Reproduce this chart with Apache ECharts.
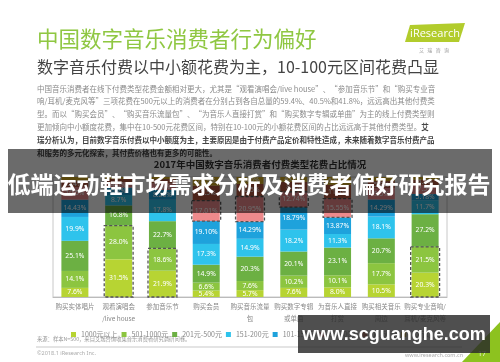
<!DOCTYPE html>
<html><head><meta charset="utf-8">
<script src="https://cdn.jsdelivr.net/npm/echarts@6/dist/echarts.min.js"></script>
<style>html,body{margin:0;padding:0;background:#fff}#c{width:500px;height:362px}</style>
</head><body><div id="c"></div>
<script>
const categories = ['购买实体唱片','观看演唱会\n/live house','参加音乐节','购买会员','购买音乐流量\n包','购买数字专辑\n或单曲','为音乐人直接\n打赏','购买相关音乐\n周边','购买专业音响/\n耳机/麦克风等'];
const bandNames = ['1000元以上','501-1000元','201元-500元','151-200元','101-150元','51-100元','11-50元','10元以下'];
const v1000 = ['7.6','31.5','21.9','5.4','5.7','7.6','8.0','10.5','20.3'];
const v501  = ['14.1','28.0','18.6','6.6','7.6','10.2','10.1','17.7','21.5'];
const v201  = ['25.1','16.8','22.7','14.9','20.3','20.1','23.1','20.7','27.2'];
const v151  = ['19.9','8.7','17.8','17.3','14.9','18.2','11.3','18.1','11.7'];
const v101  = ['14.43','6.2','8.26','19.10','14.29','18.79','13.87','14.29','5.18'];
const v51   = ['10.5','4.5','5.5','17.01','20.95','12.74','15.55','9.5','7.5'];
const v11   = ['5.4','2.8','3.5','12.5','10.5','8.3','11.5','5.8','4.2'];
const v10   = ['2.97','1.5','1.74','7.19','5.76','4.07','6.58','3.41','2.42'];
const bandColors = ['#b7d433','#8cc540','#6cb043','#2ec3ec','#1ea2dc','#ee8a8c','#b5573f','#d6ab22'];
const bands = [v1000, v501, v201, v151, v101, v51, v11, v10];

const num = a => a.map(Number);
const series = bands.map((arr, k) => ({
  name: bandNames[k], type: 'bar', stack: 'all', barWidth: 27,
  data: num(arr),
  itemStyle: { color: bandColors[k] },
  label: { show: true, position: 'inside', color: '#fff', fontSize: 6.8,
    fontFamily: 'Noto Sans', formatter: p => (Number(arr[p.dataIndex]) >= 4 ? arr[p.dataIndex] + '%' : '') }
}));

// highlighted ranges (dashed boxes)
const n = bands.map(num);
const boxes = [];
[1, 2, 8].forEach(i => boxes.push([i, 0, n[0][i] + n[1][i]]));
[3, 4, 5, 6].forEach(i => { const s = n[0][i] + n[1][i] + n[2][i] + n[3][i] + n[4][i]; boxes.push([i, s, s + n[5][i]]); });
series.push({
  type: 'custom', z: 5, data: boxes, silent: true,
  renderItem(params, api) {
    const x = api.value(0);
    const p0 = api.coord([x, api.value(1)]);
    const p1 = api.coord([x, api.value(2)]);
    const w = api.size([1, 0])[0] * 0.66;
    return { type: 'rect', shape: { x: p0[0] - w / 2, y: p1[1], width: w, height: p0[1] - p1[1] },
      style: { fill: 'none', stroke: '#555', lineWidth: 1.3, lineDash: [3, 2] } };
  }
});

const para = [
  '中国音乐消费者在线下付费类型花费金额相对更大，尤其是“观看演唱会/live house”、“参加音乐节”和“购买专业音',
  '响/耳机/麦克风等”三项花费在500元以上的消费者在分别占到各自总量的59.4%、40.5%和41.8%，远远高出其他付费类',
  '型。而以“购买会员”、“购买音乐流量包”、“为音乐人直接打赏”和“购买数字专辑或单曲”为主的线上付费类型则',
  '更加倾向中小额度花费，集中在10-500元花费区间，特别在10-100元的小额花费区间的占比远远高于其他付费类型。{b|艾}',
  '{b|瑞分析认为，目前数字音乐付费以中小额度为主，主要原因是由于付费产品定价和特性造成，未来随着数字音乐付费产品}',
  '{b|和服务的多元化探索，其付费价格也有更多的可能性。}'
];
const F = 'Noto Sans CJK SC';
const graphics = [
  { type: 'text', left: 37, top: 28, style: { text: '中国数字音乐消费者行为偏好', fill: '#8fc742', font: '21.5px "Noto Sans CJK SC"' } },
  { type: 'text', left: 37, top: 59, style: { text: '数字音乐付费以中小额花费为主，10-100元区间花费凸显', fill: '#444', font: '16px "Noto Sans CJK SC"' } },
  { type: 'polygon', shape: { points: [[405, 42], [410, 25], [465, 23], [459, 42]] }, style: { fill: '#b2cc2c' } },
  { type: 'text', x: 435, y: 33.5, style: { text: 'iResearch', fill: '#fff', font: '11px "Open Sans"', align: 'center', verticalAlign: 'middle' } },
  { type: 'text', x: 434, y: 50, style: { text: '艾   瑞   咨   询', fill: '#999', font: '5px "Noto Sans CJK SC"', align: 'center', verticalAlign: 'middle' } },
  { type: 'text', x: 260, y: 164, style: { text: '2017年中国数字音乐消费者付费类型花费占比情况', fill: '#333', font: 'bold 9.5px "Noto Sans CJK SC"', align: 'center', verticalAlign: 'middle' } },
  { type: 'text', left: 37, top: 336.5, style: { text: '来源：样本N=500，来自艾瑞咨询收集音乐消费者研究调研问卷。', fill: '#999', font: '5.3px "Noto Sans CJK SC"' } },
  { type: 'line', shape: { x1: 36, y1: 347, x2: 462, y2: 347 }, style: { stroke: '#bbb', lineWidth: 0.8 } },
  { type: 'text', left: 37, top: 350.5, style: { text: '©2018.1 iResearch Inc.', fill: '#aaa', font: '5.5px "Noto Sans"' } },
  { type: 'text', left: 405, top: 352.5, style: { text: 'www.iresearch.com.cn', fill: '#aaa', font: '5.5px "Noto Sans"' } },
  { type: 'polygon', shape: { points: [[462, 362], [500, 322], [500, 362]] }, style: { fill: '#8dc21f' } },
  { type: 'text', left: 478, top: 350, style: { text: '17', fill: '#eef5d8', font: '7px "Noto Sans"' } },
  { type: 'rect', z: 100, shape: { x: 8, y: 149, width: 484, height: 64 }, style: { fill: 'rgba(0,0,0,0.58)' } },
  { type: 'text', z: 101, x: 249, y: 184, style: { text: '低端运动鞋市场需求分析及消费者偏好研究报告', fill: '#fff', font: 'bold 23px "Noto Sans CJK SC"', align: 'center', verticalAlign: 'middle' } },
  { type: 'rect', z: 100, shape: { x: 298, y: 315, width: 192, height: 38 }, style: { fill: 'rgba(40,40,40,0.82)' } },
  { type: 'text', z: 101, x: 394, y: 335, style: { text: 'www.scguanghe.com', fill: '#fff', font: 'bold 18px "Liberation Sans"', align: 'center', verticalAlign: 'middle' } }
];
para.forEach((t, i) => {
  graphics.push({ type: 'text', left: 37, top: 85, y: 0, style: {
    text: t, fill: i >= 4 ? '#444' : '#8a8a8a', font: (i >= 4 ? 'bold ' : '') + '7.5px "Noto Sans CJK SC"',
    rich: { b: { fontWeight: 'bold', fill: '#444', fontSize: 7.5, fontFamily: F } } } });
  graphics[graphics.length - 1].top = 85 + i * 12.8;
});

const chart = echarts.init(document.getElementById('c'));
chart.setOption({
  animation: false,
  textStyle: { fontFamily: F },
  grid: { left: 53, right: 53, top: 177, bottom: 65, show: true, borderColor: '#c8c8c8', borderWidth: 1 },
  legend: { data: bandNames, left: 66, top: 326, itemWidth: 5, itemHeight: 5, itemGap: 4, icon: 'rect',
    textStyle: { fontSize: 7, color: '#888', fontFamily: F } },
  xAxis: { type: 'category', data: categories,
    axisLine: { lineStyle: { color: '#bbb' } }, axisTick: { show: false },
    axisLabel: { interval: 0, fontSize: 6.5, color: '#888', lineHeight: 11.5, margin: 4, fontFamily: F } },
  yAxis: { type: 'value', min: 0, max: 100, show: false, splitLine: { show: false } },
  series,
  graphic: graphics
});
</script></body></html>
